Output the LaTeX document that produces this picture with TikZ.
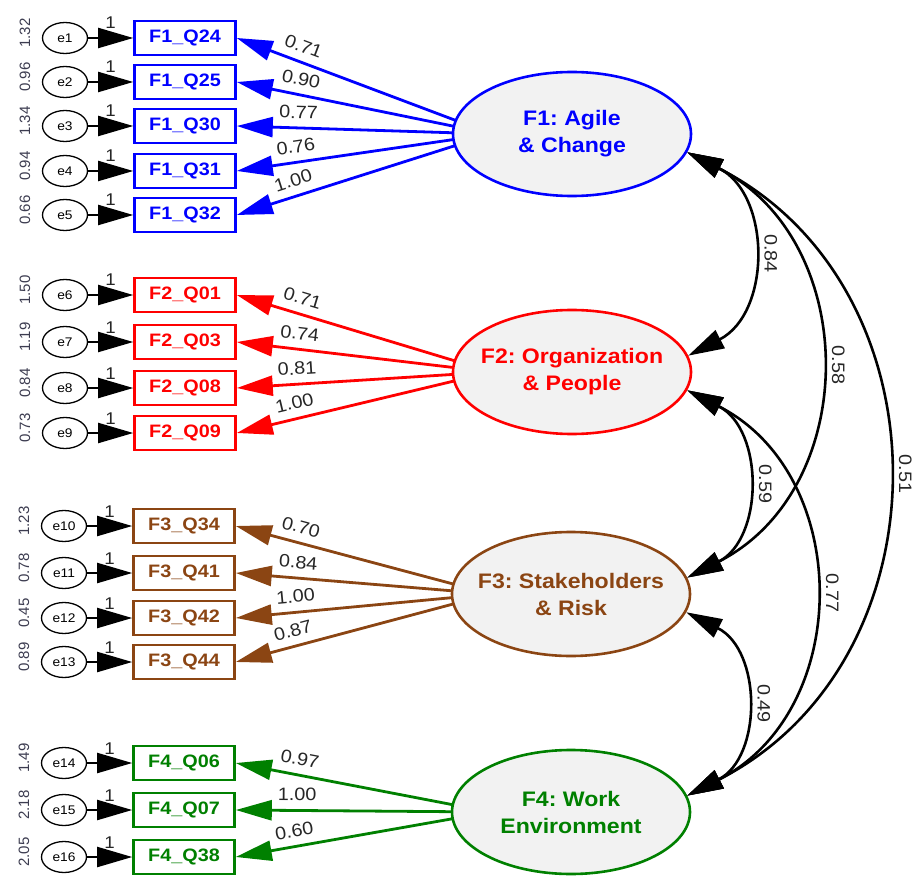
\documentclass[tikz,border=0pt]{standalone}
\usepackage{fontspec}
\setmainfont{Liberation Sans}[FakeStretch=1.1]
\newfontfamily\varfont{Liberation Sans}
\frenchspacing
\usetikzlibrary{arrows.meta,calc,backgrounds,shapes.geometric}
\definecolor{cFa}{RGB}{0,0,255}
\definecolor{cFb}{RGB}{255,0,0}
\definecolor{cFc}{RGB}{139,69,19}
\definecolor{cFd}{RGB}{0,128,0}
\definecolor{latfill}{RGB}{242,242,242}
\definecolor{varcol}{RGB}{60,60,80}
\newcommand{\zw}[1]{\makebox[0pt]{#1}}
\begin{document}
\frenchspacing
\begin{tikzpicture}[x=1pt,y=1pt,
  obs/.style={draw=#1, text=#1, line width=2.6pt, rectangle, minimum width=101pt, minimum height=34pt, inner sep=0pt, font=\fontsize{18}{20}\selectfont\bfseries, fill=white},
  lat/.style={draw=#1, text=#1, line width=2.6pt, ellipse, minimum width=238pt, minimum height=124pt, inner sep=0pt, fill=latfill, font=\fontsize{21}{27}\selectfont\bfseries\frenchspacing, align=center},
  err/.style={draw=black, line width=1.3pt, ellipse, minimum width=45pt, minimum height=31pt, inner sep=0pt, font=\fontsize{12.5}{14}\selectfont},
  errarrow/.style={line width=2pt, -{Triangle[length=35pt,width=20pt]}},
  load/.style={draw=#1, line width=2.8pt, -{Triangle[length=36pt,width=20pt]}},
  loadlab/.style={sloped, above=7pt, inner sep=1pt, pos=0.76, font=\fontsize{18}{20}\selectfont, text=black!85},
  onelab/.style={midway, above=7pt, inner sep=1pt, font=\fontsize{17}{19}\selectfont, text=black!85},
  varlab/.style={rotate=90, inner sep=0pt, font=\varfont\fontsize{15}{17}\selectfont, text=varcol},
  cov/.style={line width=2.6pt, {Triangle[length=36pt,width=20pt]}-{Triangle[length=36pt,width=20pt]}, bend left=63, looseness=1.18},
  covlab/.style={midway, anchor=south, rotate=-90, inner sep=1pt, outer sep=13pt, font=\fontsize{18}{20}\selectfont, text=black!85},
]
\useasboundingbox (0,0) rectangle (918,-877);

% latent factors
\node[lat=cFa] (f1) at (572,-134) {\zw{F1: Agile}\\\zw{\& Change}};
\node[lat=cFb] (f2) at (572,-372) {\zw{F2: Organization}\\\zw{\& People}};
\node[lat=cFc] (f3) at (571,-594) {\zw{F3: Stakeholders}\\\zw{\& Risk}};
\node[lat=cFd] (f4) at (571,-812) {\zw{F4: Work}\\\zw{Environment}};

\coordinate (h1) at ($(f1.west)+(40,0)$);
\coordinate (h2) at ($(f2.west)+(40,0)$);
\coordinate (h3) at ($(f3.west)+(40,0)$);
\coordinate (h4) at ($(f4.west)+(40,0)$);

% observed items
\node[obs=cFa] (q24) at (185,-38) {F1\_Q24};
\node[obs=cFa] (q25) at (185,-82) {F1\_Q25};
\node[obs=cFa] (q30) at (185,-126) {F1\_Q30};
\node[obs=cFa] (q31) at (185,-171) {F1\_Q31};
\node[obs=cFa] (q32) at (185,-215) {F1\_Q32};
\node[obs=cFb] (q01) at (185,-295) {F2\_Q01};
\node[obs=cFb] (q03) at (185,-342) {F2\_Q03};
\node[obs=cFb] (q08) at (185,-388) {F2\_Q08};
\node[obs=cFb] (q09) at (185,-433) {F2\_Q09};
\node[obs=cFc] (q34) at (184,-526) {F3\_Q34};
\node[obs=cFc] (q41) at (184,-573) {F3\_Q41};
\node[obs=cFc] (q42) at (184,-618) {F3\_Q42};
\node[obs=cFc] (q44) at (184,-662) {F3\_Q44};
\node[obs=cFd] (q06) at (184,-763) {F4\_Q06};
\node[obs=cFd] (q07) at (184,-810) {F4\_Q07};
\node[obs=cFd] (q38) at (184,-857) {F4\_Q38};

% error terms
\node[err] (e1) at (65,-38) {e1};
\node[err] (e2) at (65,-82) {e2};
\node[err] (e3) at (65,-126) {e3};
\node[err] (e4) at (65,-171) {e4};
\node[err] (e5) at (65,-215) {e5};
\node[err] (e6) at (65,-295) {e6};
\node[err] (e7) at (65,-342) {e7};
\node[err] (e8) at (65,-388) {e8};
\node[err] (e9) at (65,-433) {e9};
\node[err] (e10) at (64,-526) {e10};
\node[err] (e11) at (64,-573) {e11};
\node[err] (e12) at (64,-618) {e12};
\node[err] (e13) at (64,-662) {e13};
\node[err] (e14) at (64,-763) {e14};
\node[err] (e15) at (64,-810) {e15};
\node[err] (e16) at (64,-857) {e16};

% variance labels
\foreach \e/\v in {e1/1.32,e2/0.96,e3/1.34,e4/0.94,e5/0.66,e6/1.50,e7/1.19,e8/0.84,e9/0.73,e10/1.23,e11/0.78,e12/0.45,e13/0.89,e14/1.49,e15/2.18,e16/2.05}
  \node[varlab] (v\e) at ($(\e.west)+(-17,5)$) {\v};

% error arrows
\foreach \e/\q in {e1/q24,e2/q25,e3/q30,e4/q31,e5/q32,e6/q01,e7/q03,e8/q08,e9/q09,e10/q34,e11/q41,e12/q42,e13/q44,e14/q06,e15/q07,e16/q38}
  \draw[errarrow] (\e) -- node[onelab]{1} (\q);

% loadings
\begin{scope}[on background layer]
\draw[load=cFa] (h1) -- node[loadlab]{0.71} (q24.east);
\draw[load=cFa] (h1) -- node[loadlab]{0.90} (q25.east);
\draw[load=cFa] (h1) -- node[loadlab]{0.77} (q30.east);
\draw[load=cFa] (h1) -- node[loadlab]{0.76} (q31.east);
\draw[load=cFa] (h1) -- node[loadlab]{1.00} (q32.east);
\draw[load=cFb] (h2) -- node[loadlab]{0.71} (q01.east);
\draw[load=cFb] (h2) -- node[loadlab]{0.74} (q03.east);
\draw[load=cFb] (h2) -- node[loadlab]{0.81} (q08.east);
\draw[load=cFb] (h2) -- node[loadlab]{1.00} (q09.east);
\draw[load=cFc] (h3) -- node[loadlab]{0.70} (q34.east);
\draw[load=cFc] (h3) -- node[loadlab]{0.84} (q41.east);
\draw[load=cFc] (h3) -- node[loadlab]{1.00} (q42.east);
\draw[load=cFc] (h3) -- node[loadlab]{0.87} (q44.east);
\draw[load=cFd] (h4) -- node[loadlab]{0.97} (q06.east);
\draw[load=cFd] (h4) -- node[loadlab]{1.00} (q07.east);
\draw[load=cFd] (h4) -- node[loadlab]{0.60} (q38.east);
\end{scope}

% covariances
\draw[cov] (f1.-9) to node[covlab]{0.84} (f2.8);
\draw[cov] (f1.-9) to node[covlab]{0.58} (f3.8);
\draw[cov] (f1.-9) to node[covlab]{0.51} (f4.8);
\draw[cov] (f2.-9) to node[covlab]{0.59} (f3.8);
\draw[cov] (f2.-9) to node[covlab]{0.77} (f4.8);
\draw[cov] (f3.-9) to node[covlab]{0.49} (f4.8);
\end{tikzpicture}
\end{document}
